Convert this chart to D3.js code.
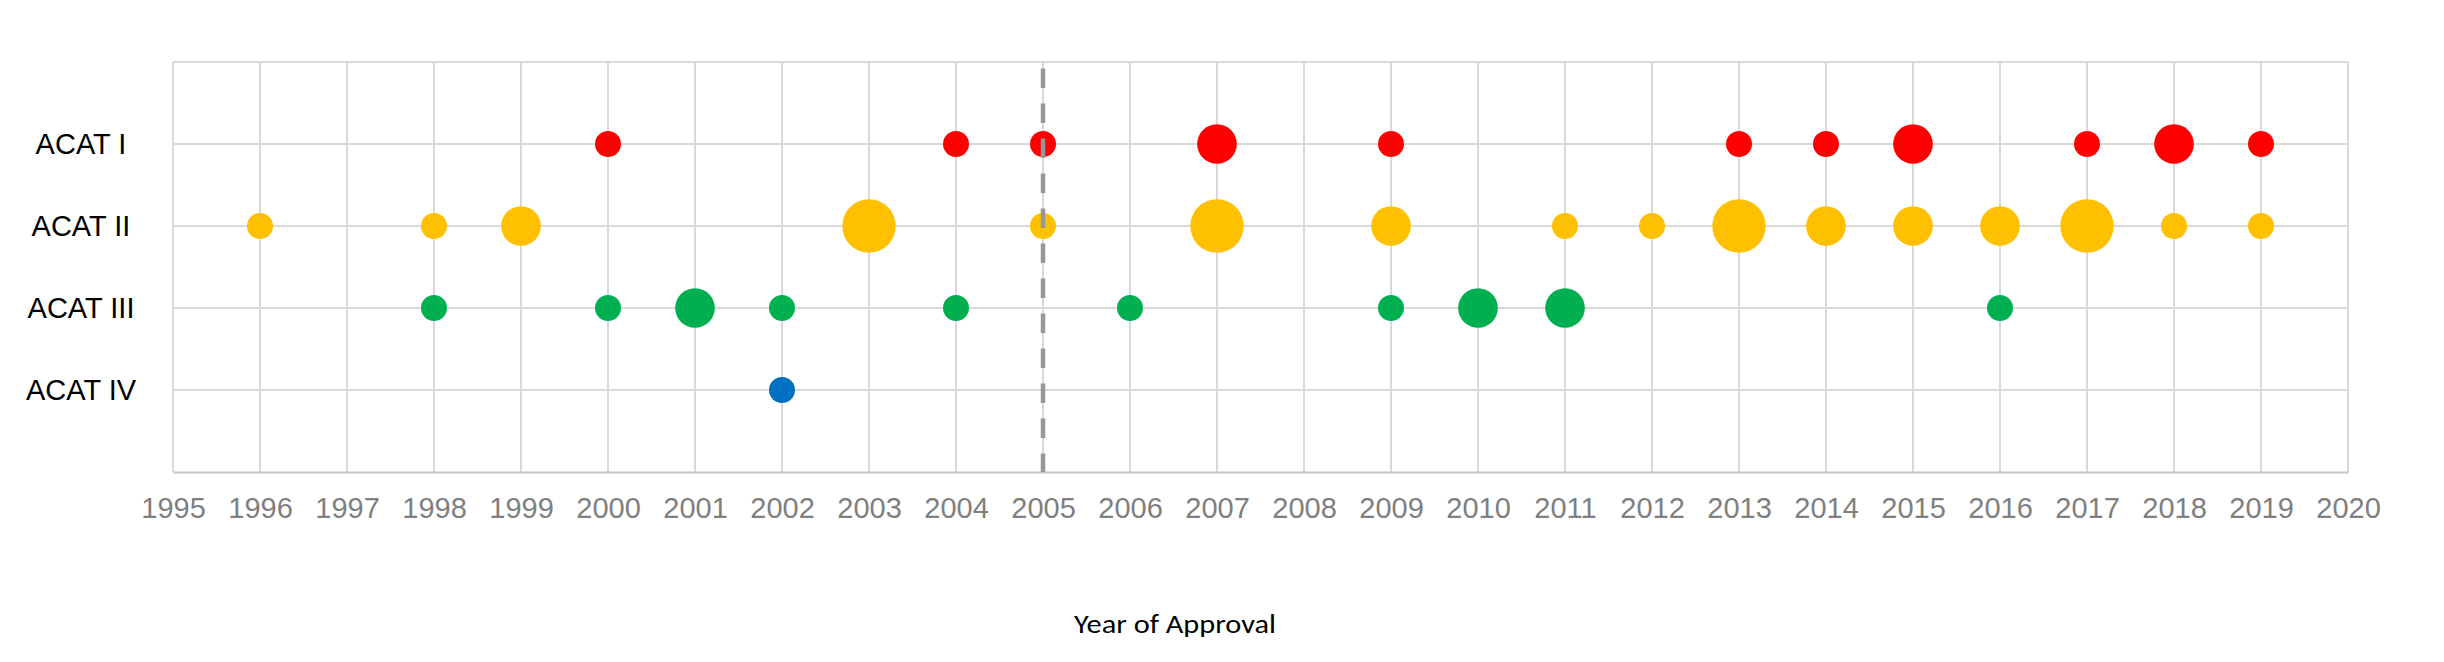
<!DOCTYPE html>
<html>
<head>
<meta charset="utf-8">
<script src="https://cdn.jsdelivr.net/npm/d3@7"></script>
<style>
    body { margin: 0; background: #fff; }
    #chart-area { width: 2444px; height: 662px; }
</style>
</head>
<body>
<div id="chart-area"></div>
<script>

// Rows top to bottom, y value used in the chart
let categories = ["ACAT I", "ACAT II", "ACAT III", "ACAT IV"];
let categoryLevels = [4, 3, 2, 1];
let categoryColors = ["#FF0000", "#FFC000", "#00B050", "#0070C0"];

// [year, bubble size] per row
let acatI = [[2000, 1], [2004, 1], [2005, 1], [2007, 2], [2009, 1], [2013, 1], [2014, 1], [2015, 2], [2017, 1], [2018, 2], [2019, 1]];
let acatII = [[1996, 1], [1998, 1], [1999, 2], [2003, 3], [2005, 1], [2007, 3], [2009, 2], [2011, 1], [2012, 1], [2013, 3], [2014, 2], [2015, 2], [2016, 2], [2017, 3], [2018, 1], [2019, 1]];
let acatIII = [[1998, 1], [2000, 1], [2001, 2], [2002, 1], [2004, 1], [2006, 1], [2009, 1], [2010, 2], [2011, 2], [2016, 1]];
let acatIV = [[2002, 1]];

let yearTicks = d3.range(1995, 2021);
let levelTicks = [0, 1, 2, 3, 4, 5];
let markerYear = 2005;
let xTitle = "Year of Approval";


class BubbleTimeline {

    constructor(parentElement, rows) {
        this.parentElement = parentElement;
        this.rows = rows;
        this.initVis();
    }

    initVis() {
        let vis = this;

        vis.margin = {top: 62, right: 96, bottom: 190, left: 173};
        vis.width = 2444 - vis.margin.left - vis.margin.right;
        vis.height = 662 - vis.margin.top - vis.margin.bottom;

        vis.svg = d3.select("#" + vis.parentElement).append("svg")
                    .attr("width", vis.width + vis.margin.left + vis.margin.right)
                    .attr("height", vis.height + vis.margin.top + vis.margin.bottom)
                    .append("g")
                    .attr("transform", "translate(" + vis.margin.left + "," + vis.margin.top + ")");

        // Scales
        vis.x = d3.scaleLinear()
                    .domain([1995, 2020])
                    .range([0, vis.width]);

        vis.y = d3.scaleLinear()
                    .domain([0, 5])
                    .range([vis.height, 0]);

        vis.r = d3.scaleLinear()
                    .domain([1, 3])
                    .range([13, 26.7]);

        // Gridlines
        vis.svg.append("g").attr("class", "grid-x")
            .selectAll("line")
            .data(yearTicks)
            .enter().append("line")
            .attr("x1", d => vis.x(d)).attr("x2", d => vis.x(d))
            .attr("y1", 0).attr("y2", vis.height)
            .attr("stroke", "#D9D9D9")
            .attr("stroke-width", 2);

        vis.svg.append("g").attr("class", "grid-y")
            .selectAll("line")
            .data(levelTicks.filter(d => d > 0))
            .enter().append("line")
            .attr("x1", 0).attr("x2", vis.width)
            .attr("y1", d => vis.y(d)).attr("y2", d => vis.y(d))
            .attr("stroke", "#D9D9D9")
            .attr("stroke-width", 2);

        // x axis
        vis.xAxis = d3.axisBottom(vis.x)
                        .tickValues(yearTicks)
                        .tickFormat(d3.format("d"))
                        .tickSize(0)
                        .tickPadding(25);

        vis.xAxisGroup = vis.svg.append("g")
                                .attr("class", "x-axis")
                                .attr("transform", `translate(0, ${vis.height})`)
                                .call(vis.xAxis);

        vis.xAxisGroup.select(".domain")
            .attr("stroke", "#C4C4C4")
            .attr("stroke-width", 2);

        vis.xAxisGroup.selectAll("text")
            .attr("fill", "#7F7F7F")
            .style("font-family", "'Liberation Sans', Arial, sans-serif")
            .style("font-size", "29px");

        // y axis with category names
        vis.yAxis = d3.axisLeft(vis.y)
                        .tickValues(categoryLevels)
                        .tickFormat((d, i) => categories[i])
                        .tickSize(0)
                        .tickPadding(92);

        vis.yAxisGroup = vis.svg.append("g")
                                .attr("class", "y-axis")
                                .call(vis.yAxis);

        vis.yAxisGroup.select(".domain").remove();

        vis.yAxisGroup.selectAll("text")
            .attr("fill", "#000")
            .attr("text-anchor", "middle")
            .style("font-family", "'Liberation Sans', Arial, sans-serif")
            .style("font-size", "29px");

        // x axis title
        vis.svg.append("text")
            .attr("class", "x-title")
            .attr("x", 1175 - vis.margin.left)
            .attr("y", 632.6 - vis.margin.top)
            .attr("text-anchor", "middle")
            .attr("fill", "#000")
            .attr("textLength", 202)
            .attr("lengthAdjust", "spacingAndGlyphs")
            .style("font-family", "Carlito, Lato, sans-serif")
            .style("font-size", "27.5px")
            .text(xTitle);

        vis.updateVis();
    }

    updateVis() {
        let vis = this;

        vis.rows.forEach((row, i) => {
            vis.svg.append("g")
                .attr("class", "bubbles-" + i)
                .selectAll("circle")
                .data(row)
                .enter().append("circle")
                .attr("cx", d => vis.x(d[0]))
                .attr("cy", vis.y(categoryLevels[i]))
                .attr("r", d => vis.r(d[1]))
                .attr("fill", categoryColors[i]);
        });

        // Dashed marker line
        vis.svg.append("line")
            .attr("class", "marker")
            .attr("x1", vis.x(markerYear)).attr("x2", vis.x(markerYear))
            .attr("y1", vis.y(5) + 6.5).attr("y2", vis.y(0))
            .attr("stroke", "#979797")
            .attr("stroke-width", 4.5)
            .attr("stroke-dasharray", "19.5,15.5");
    }
}

new BubbleTimeline("chart-area", [acatI, acatII, acatIII, acatIV]);

</script>
</body>
</html>
